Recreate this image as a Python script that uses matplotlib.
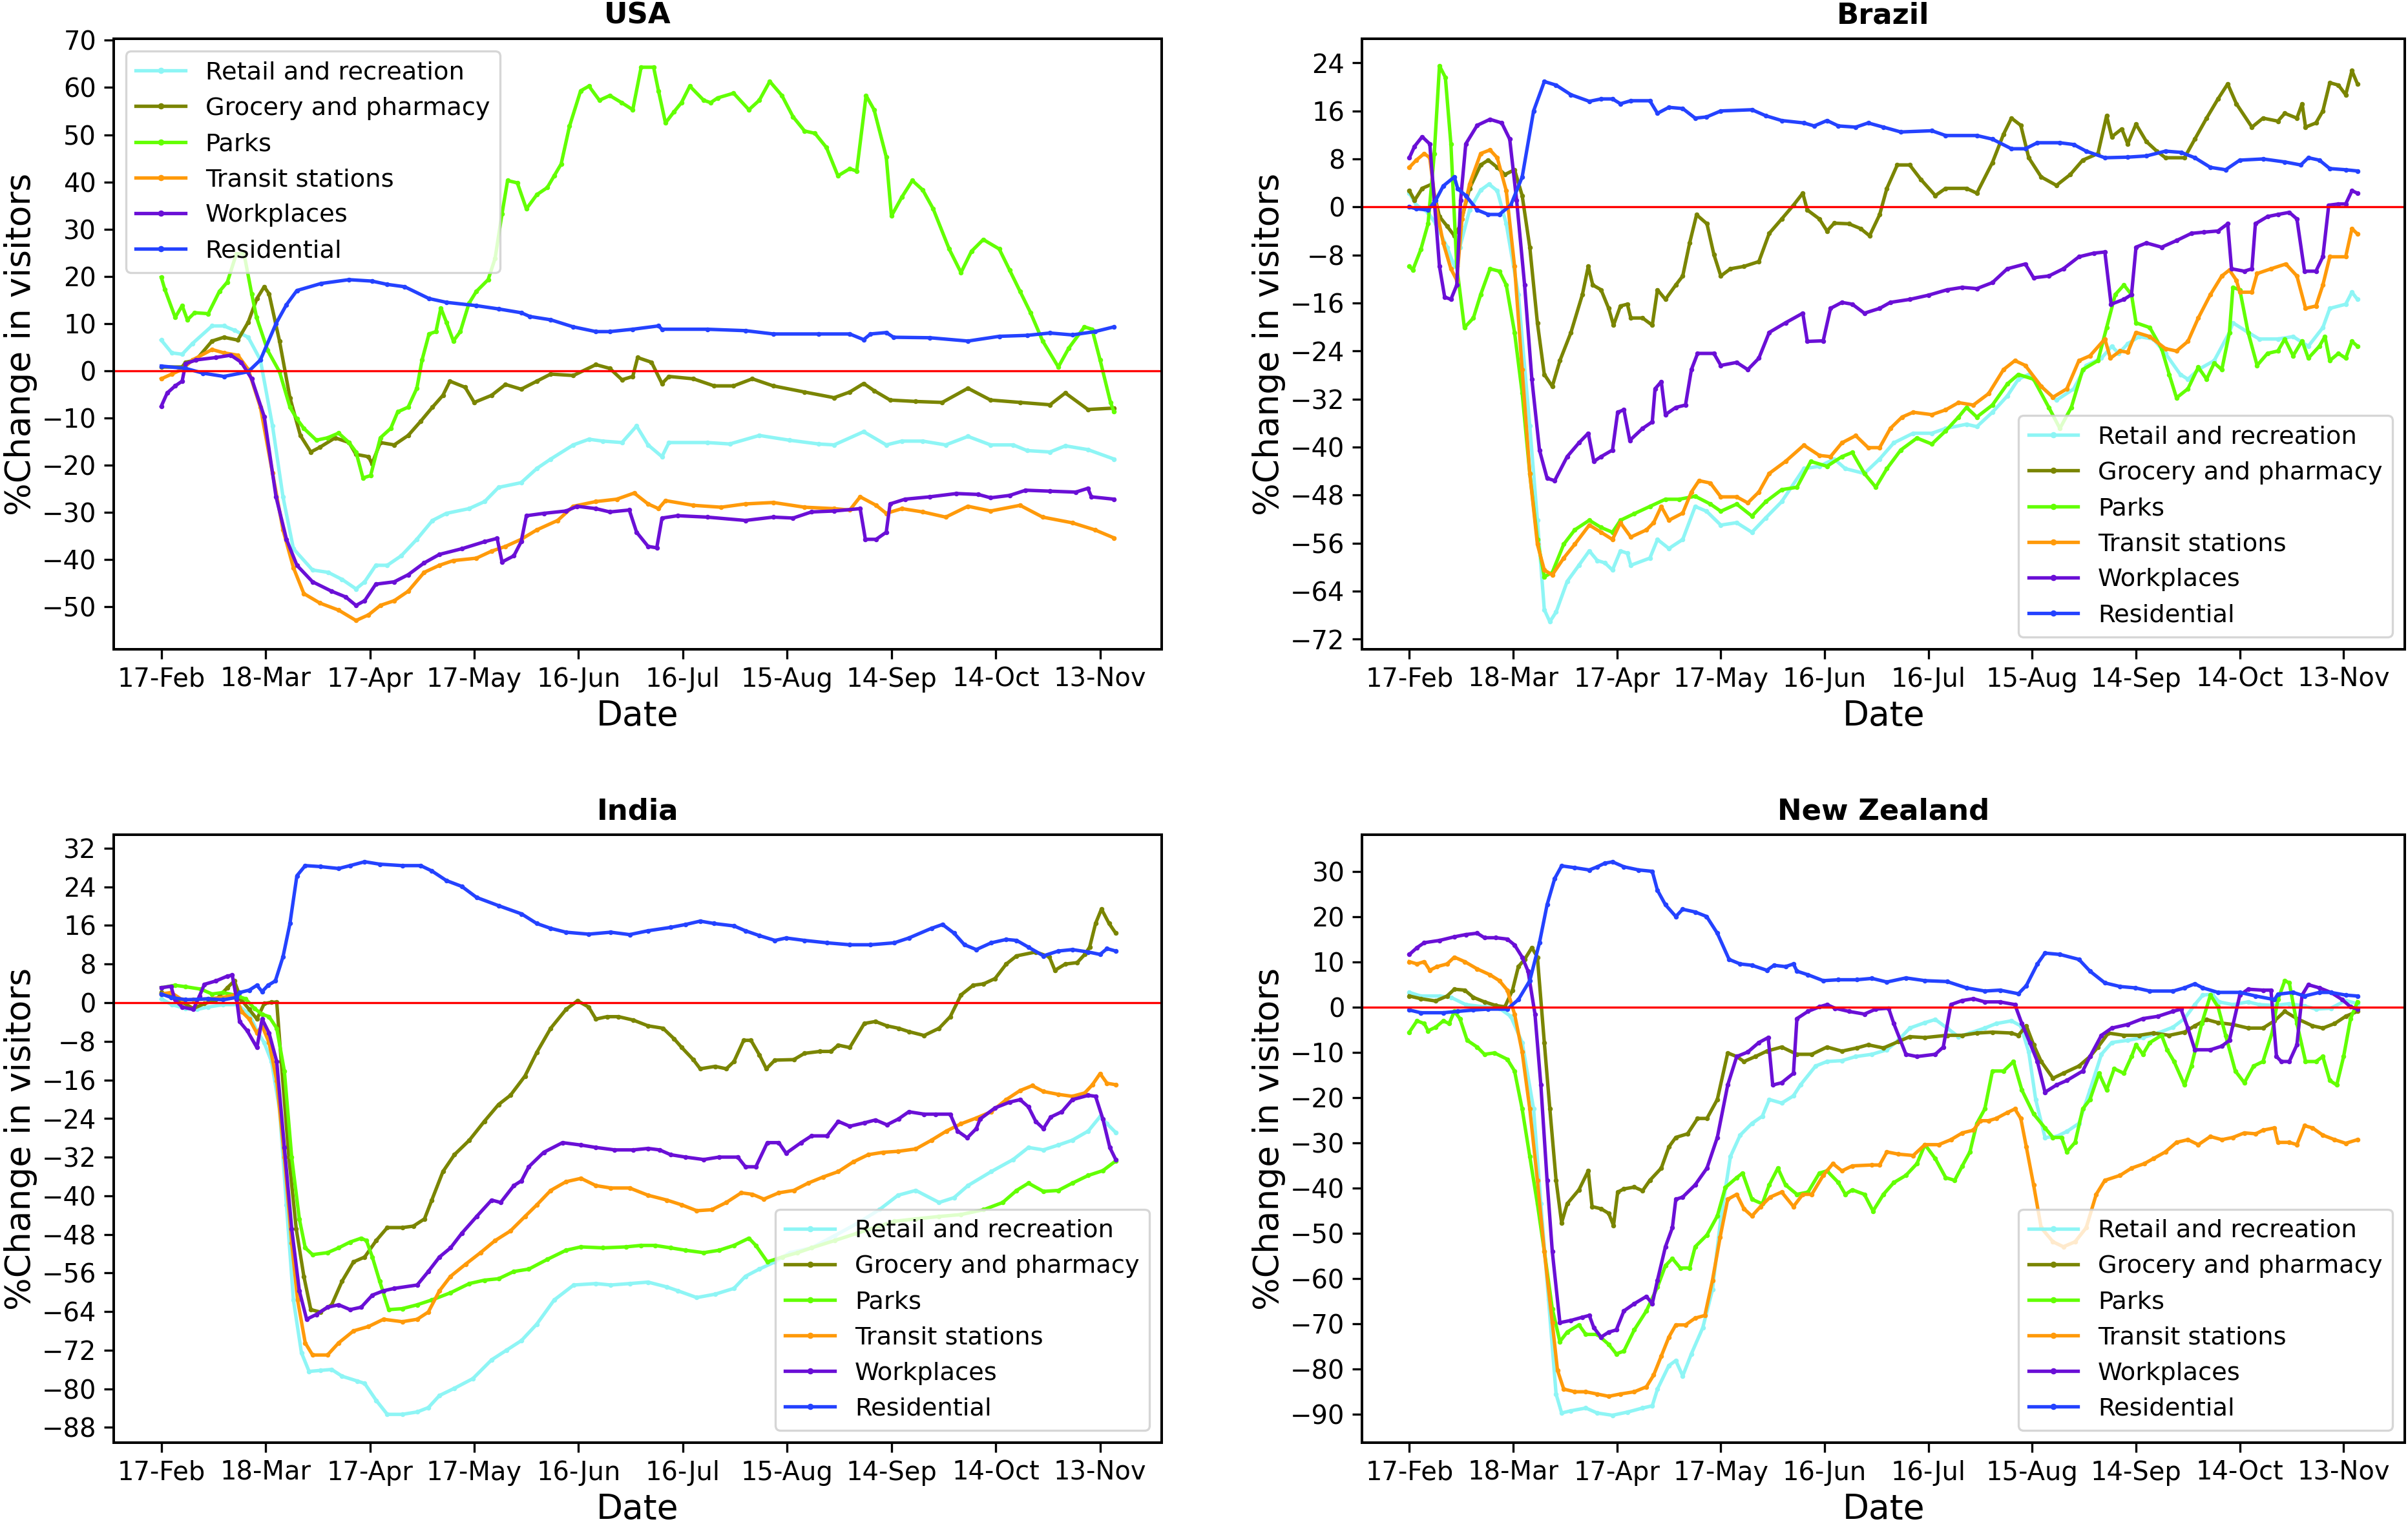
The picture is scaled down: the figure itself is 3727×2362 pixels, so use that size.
import matplotlib
matplotlib.use("Agg")
from matplotlib import pyplot as plt

# day index 0 = 17-Feb-2020, values in % change from baseline
tick_days = [0, 30, 60, 90, 120, 150, 180, 210, 240, 270]
tick_labels = ["17-Feb", "18-Mar", "17-Apr", "17-May", "16-Jun",
               "16-Jul", "15-Aug", "14-Sep", "14-Oct", "13-Nov"]

categories = ["Retail and recreation", "Grocery and pharmacy", "Parks",
              "Transit stations", "Workplaces", "Residential"]
colors = ["#8ef5f5", "#7a8500", "#62ff00", "#ff9a0a", "#6a0fd6", "#2442ff"]

# ---------------- USA ----------------
usa_retail = [(0, 6.5), (3, 3.8), (6, 3.5), (9, 5.8), (14.6, 9.5), (18, 9.5), (21, 8.6), (25, 7.1), (28.5, 2.3),
              (32, -11.7), (35, -26.7), (38, -37.7), (43.5, -42.2), (48, -42.7), (52, -44.2), (56, -46.2),
              (58.5, -44.7), (61.7, -41.2), (65, -41.2), (69, -39.2), (73.5, -35.7), (78, -31.7), (82, -30.2),
              (88.5, -29.2), (93, -27.7), (97, -24.7), (103.5, -23.7), (108, -20.7), (112, -18.7), (118.5, -15.7),
              (123, -14.5), (127, -14.9), (132.5, -15.2), (136.7, -11.7), (140, -15.7), (144, -18.2), (146, -15.2),
              (157, -15.2), (163.5, -15.5), (172, -13.7), (180.6, -14.7), (189, -15.5), (193.5, -15.7), (202, -12.9),
              (208.5, -15.7), (213, -14.9), (219, -14.9), (225.6, -15.7), (232, -13.9), (238.5, -15.7), (245, -15.7),
              (249, -16.9), (255.6, -17.2), (260, -15.9), (266.5, -16.7), (274, -18.7)]
usa_grocery = [(0, 0.8), (6, 0.8), (7, 1.8), (10, 2.3), (14.6, 6.3), (18, 7.1), (22, 6.5), (25, 10.3), (27.5, 15.3),
               (29.6, 17.8), (31, 16.3), (34, 6.3), (37, -5.7), (40, -13.7), (43, -17.2), (45.6, -16.2), (50, -14.2),
               (54, -15.2), (56, -17.7), (59.6, -18.2), (60.6, -19.7), (63, -15.2), (67, -15.7), (71, -13.7),
               (74.6, -10.7), (78, -7.7), (81, -5.2), (83, -2.2), (87.4, -3.5), (90, -6.7), (95, -5.2), (99, -2.9),
               (103.5, -3.9), (108, -2.2), (112, -0.7), (118.5, -1), (125, 1.3), (129, 0.5), (132.5, -1.9),
               (135.6, -1.2), (137, 2.8), (141, 1.8), (144, -2.7), (146, -1.2), (153, -1.7), (159, -3.2),
               (164.6, -3.2), (170, -1.7), (176, -3.2), (185, -4.5), (193.5, -5.7), (198, -4.5), (202, -2.7),
               (205, -4.2), (209.6, -6.2), (217, -6.5), (224.6, -6.7), (232, -3.7), (238.5, -6.2), (247, -6.7),
               (255.6, -7.2), (260, -4.7), (266.5, -8.2), (274, -7.9)]
usa_parks = [(0, 19.8), (1, 17.3), (4, 11.3), (6, 13.8), (7.5, 10.8), (9.6, 12.3), (13.5, 12.1), (16.7, 16.8),
             (19, 18.8), (21.6, 24.8), (23.8, 24.8), (26, 16.3), (27.4, 11.3), (30.6, 4.3), (34, -0.2), (37, -7.7),
             (39, -10.2), (41, -12.2), (44.6, -14.7), (47.8, -14.2), (51, -13.2), (54, -15.2), (56, -17.2),
             (58, -22.7), (60.2, -22.2), (63, -14.2), (66, -12.2), (68, -8.7), (71, -7.7), (73.5, -3.7), (75, 2.3),
             (77, 7.8), (79, 8.3), (80.4, 13.3), (82, 10.3), (84, 6.3), (86, 8.3), (88.5, 14.3), (90.6, 16.8),
             (94, 19.3), (96, 23.8), (98, 33.3), (99.6, 40.3), (102.4, 39.8), (105, 34.3), (108, 37.3), (111, 38.8),
             (113, 41.3), (115, 43.8), (117.4, 51.8), (120.6, 59.3), (123, 60.3), (126, 57.3), (129, 58.3),
             (132.4, 56.8), (135.6, 55.3), (138, 64.3), (141.6, 64.3), (143, 59.3), (145, 52.5), (147.4, 54.8),
             (149.6, 56.8), (152, 60.3), (156, 57.3), (158, 56.8), (160, 57.8), (164.6, 58.8), (169, 55.3),
             (172, 57.3), (175, 61.3), (178.5, 58.3), (181.7, 53.8), (185, 50.8), (188, 50.3), (191.3, 47.3),
             (194.6, 41.3), (198, 42.8), (200, 42.3), (202.7, 58.3), (205, 55.3), (208.5, 45.3), (210, 32.8),
             (213, 36.8), (216, 40.3), (219, 38.3), (222, 34.3), (226.6, 25.8), (230, 20.8), (233, 25.3),
             (236.4, 27.8), (241, 25.8), (244, 21.3), (247, 16.8), (250, 12.3), (253.5, 6.3), (258, 0.8), (261, 4.8),
             (265.5, 9.3), (267.7, 8.8), (270, 2.3), (273, -6.7), (274, -8.7)]
usa_transit = [(0, -1.7), (3, -0.7), (6, 0.3), (9, 2.3), (14.6, 4.5), (18, 3.8), (22, 3.3), (25, 0.3), (28.5, -7.7),
               (32, -21.7), (35, -33.7), (38, -41.7), (41, -47.2), (45.6, -49.2), (51, -50.7), (56, -52.9),
               (59.6, -51.7), (63, -49.7), (67, -48.7), (71, -46.7), (75.6, -42.7), (80, -41.2), (84, -40.2),
               (90.6, -39.7), (95, -38.2), (99, -37.2), (103.5, -35.7), (108, -33.7), (114, -31.7), (118.5, -28.7),
               (125, -27.7), (131, -27.2), (136, -25.9), (140, -28.2), (143, -29.2), (145, -27.5), (153, -28.5),
               (161, -28.9), (168, -28.2), (176, -27.9), (185, -28.9), (193.5, -29.2), (198, -29.5), (201, -26.7),
               (205.6, -28.5), (208.5, -30.2), (213, -29.2), (219, -29.9), (225.6, -31), (232, -28.7),
               (238.5, -29.7), (247, -28.5), (253.5, -31), (262, -32.2), (268.5, -33.7), (274, -35.4)]
usa_workplaces = [(0, -7.5), (1.7, -4.7), (4, -3.2), (6, -2.2), (7, 1.5), (10, 2.3), (15.6, 2.8), (20, 3.3),
                  (23, 1.8), (26, -1.7), (29.6, -9.7), (33, -26.7), (36, -35.7), (39, -41.2), (43.5, -44.7),
                  (49, -46.7), (53, -47.9), (56, -49.7), (58.5, -48.7), (61.7, -45.2), (67, -44.7), (71, -43.2),
                  (75.6, -40.7), (80, -38.9), (86.4, -37.7), (93, -36.2), (96.6, -35.5), (98, -40.5),
                  (101.4, -39.2), (103.5, -36.2), (105, -30.7), (110, -30.2), (116.4, -29.7), (119.6, -28.7),
                  (125, -29.2), (129, -29.9), (134.6, -29.5), (136.7, -34.2), (140, -37.2), (142.5, -37.5),
                  (144, -31.2), (148.5, -30.7), (157, -31), (168, -31.7), (176, -31), (181.7, -31.2), (187, -29.9),
                  (193.5, -29.7), (201, -29.2), (202.5, -35.7), (205.6, -35.7), (208.5, -34.2), (209.6, -28.2),
                  (213.9, -27.2), (221, -26.7), (228.7, -26), (235, -26.2), (238.5, -26.9), (244, -26.4),
                  (248.6, -25.3), (255.6, -25.5), (263, -25.7), (266.5, -24.9), (267.5, -26.7), (274, -27.2)]
usa_residential = [(0, 1), (7, 0.5), (12, -0.5), (18, -1.2), (25, -0.2), (28.5, 2.3), (33, 10), (36, 14), (39, 17),
                   (46, 18.5), (54, 19.3), (60.6, 19), (65, 18.3), (70, 17.8), (77, 15.3), (82, 14.5), (90.6, 13.8),
                   (97, 13.1), (103.5, 12.3), (106, 11.5), (112, 10.8), (118.5, 9.3), (125, 8.3), (129, 8.3),
                   (135.6, 8.8), (143, 9.5), (144, 8.8), (157, 8.8), (168, 8.5), (176, 7.8), (189, 7.8), (198, 7.8),
                   (202, 6.6), (204, 7.8), (208.5, 8.1), (210.6, 7.1), (221, 7), (232, 6.3), (241, 7.3), (249, 7.5),
                   (255.6, 8), (262, 7.6), (268.5, 8.3), (274, 9.3)]

# ---------------- Brazil ----------------
br_retail = [(0, 2.3), (2, 0.3), (5.4, -0.9), (7.6, -2.8), (10.9, -6.7), (13, -9.9), (14.6, -6.7), (17.4, -0.5),
             (20.6, 2.8), (23, 3.8), (25.4, 2.7), (28, -2.8), (31.5, -14.6), (34.8, -36.5), (37, -52.2), (39, -67.1),
             (40.6, -69.1), (42.4, -67.5), (45.6, -62.4), (49, -59.7), (52, -57.3), (54.3, -58.9), (56.5, -59.3),
             (58.7, -60.5), (61, -57.3), (63, -57.7), (64, -59.7), (69.5, -58.5), (71.7, -55.4), (75, -56.9),
             (79, -55.4), (82.6, -49.9), (85.9, -50.7), (90, -53), (94.6, -52.6), (99, -54.2), (103, -51.8),
             (107.6, -49.1), (114, -43.6), (118.5, -43.2), (122.8, -42), (126, -43.6), (131.5, -44.4),
             (135.9, -42), (140, -39.3), (145.6, -37.7), (151, -37.7), (155, -36.9), (161, -36.2), (164, -36.6),
             (168.5, -34.2), (172.8, -31.5), (176, -28.7), (179, -27.9), (182.6, -29.9), (187, -32.2), (192, -30.3),
             (195.6, -26.4), (200, -25.2), (203, -23.2), (205, -24.4), (207.6, -22.8), (210.9, -21.6), (215, -22),
             (218.5, -24.4), (222.8, -27.9), (225, -28.7), (228, -27.1), (232.6, -25.6), (237, -20.9), (238, -19.3),
             (242.4, -20.9), (245.6, -22), (251, -22), (255.4, -21.6), (259.8, -23.2), (264, -20.1), (266, -16.9),
             (270.6, -16.2), (272.4, -14.2), (274, -15.4)]
br_grocery = [(0, 2.7), (1.5, 1.1), (3.7, 3.1), (6.5, 3.8), (8.7, -1.6), (10.9, -3.2), (13, -4.8), (14.6, -3.2),
              (17.4, 3.1), (20.6, 7), (22.8, 7.8), (25.4, 6.6), (27.6, 5.4), (30.4, 6.2), (32.6, 1.9), (34.8, -6.7),
              (37, -19.3), (39, -27.9), (41.3, -29.9), (43.5, -25.6), (46.7, -20.9), (50, -14.6), (51.7, -9.9),
              (53, -13), (55.4, -13.8), (57.6, -16.9), (59, -19.7), (61, -16.5), (63, -16.2), (64, -18.5),
              (67.4, -18.5), (70.2, -19.7), (71.7, -13.8), (74, -15.4), (77, -13), (79, -11.5), (81, -6), (83, -1.3),
              (86, -2.8), (88, -7.9), (90, -11.5), (92.8, -10.3), (96.7, -9.9), (101, -9.1), (104, -4.4),
              (107.6, -2), (111, 0.3), (113.7, 2.3), (115, -0.5), (118.5, -2), (120.7, -4), (122.8, -2.7),
              (127, -2.8), (130.4, -3.6), (133, -4.8), (135.9, -1.3), (138, 3.1), (141, 7), (144.6, 7), (147.8, 4.6),
              (152, 1.9), (155, 3.1), (161, 3.1), (164, 2.3), (168.5, 7.4), (171.7, 12.1), (174, 14.8),
              (176.7, 13.6), (179, 8.2), (182.6, 5), (187, 3.6), (191, 5.4), (194.6, 7.8), (199, 8.9),
              (201.5, 15.2), (203, 11.7), (205.9, 13), (207.6, 10.5), (210, 13.8), (213, 10.9), (216, 9.3),
              (218.5, 8.2), (224, 8.2), (227, 11.3), (230.4, 14.8), (233.7, 18), (236.5, 20.5), (239, 17.2),
              (243.5, 13.3), (246.7, 14.8), (251, 14.3), (253, 15.6), (256.5, 14.8), (258, 17.2), (259, 13.3),
              (262, 14), (264, 16), (266, 20.7), (268.5, 20.3), (270.6, 18.7), (272.4, 22.7), (274, 20.5)]
br_parks = [(0, -9.9), (1, -10.5), (3.3, -7.1), (5.4, -2.8), (7.2, 8.9), (8.7, 23.5), (10.4, 21.6), (12, 10.5),
            (13.7, -9.9), (15.9, -20.1), (18.5, -18.5), (20.6, -14.6), (23.3, -10.3), (26, -10.7), (28, -13),
            (30.4, -20.9), (32.6, -31), (34.8, -44.4), (37, -55.4), (39, -61.6), (41.3, -60.9), (44.6, -56.2),
            (47.8, -53.8), (52, -52.2), (55.4, -53.4), (58.7, -54.2), (61, -52.2), (65, -51.1), (69.5, -49.9),
            (74, -48.7), (78, -48.7), (82.6, -48.2), (87, -49.5), (90, -50.7), (94.6, -49.5), (99, -51.5),
            (103, -49.1), (107.6, -47.1), (112, -46.7), (116, -42.4), (120.7, -43.2), (125, -41.6), (128, -40.9),
            (131.5, -44.4), (134.8, -46.7), (138, -43.6), (142, -40.5), (146.7, -38.5), (151, -39.5), (155, -37.3),
            (158.7, -35), (161, -33.4), (164, -35), (168.5, -33), (172.8, -29.5), (176, -27.9), (180.4, -28.7),
            (184.8, -33.4), (188, -36.9), (191.3, -33.4), (194.6, -27.1), (199, -25.6), (201.5, -20.1), (204, -14.6),
            (206.5, -13), (208.7, -14.6), (210, -19.3), (214, -20.1), (217.4, -23.6), (219.6, -27.9),
            (221.7, -31.8), (225, -30.3), (228, -26.7), (230.4, -28.7), (232.6, -26), (234.8, -27.1), (237, -20.9),
            (238, -13.4), (240, -13.8), (242.4, -20.9), (245, -26.4), (248, -24.4), (251, -24), (253, -22),
            (255.4, -24.8), (258, -22.3), (259.8, -25.2), (263, -23.2), (264.6, -21.6), (266, -25.6),
            (268.5, -24.4), (270.6, -25.2), (272.4, -22.4), (274, -23.2)]
br_transit = [(0, 6.6), (2, 7.8), (4.3, 8.9), (5.9, 8.2), (7.6, 0.3), (9.8, -6), (12, -10.3), (13.7, -12.2),
              (15.2, -2), (17.4, 3.8), (20.6, 8.9), (23.3, 9.5), (25.4, 8.2), (28, 2.7), (30.4, -9.9), (32.6, -27.1),
              (34.8, -44.4), (37, -56.2), (39, -60.5), (41.3, -61.3), (44.6, -58.5), (47.8, -56.2), (52, -53),
              (55.4, -54.2), (58.7, -55.4), (61, -52.6), (64, -55), (68.5, -53.8), (70.6, -52.6), (72.8, -49.9),
              (75, -52.2), (79, -51), (81.5, -47.5), (83.7, -45.6), (87, -46), (90, -48.3), (94.6, -48.3),
              (97.8, -49.3), (101, -47.5), (104, -44.4), (108.7, -42.4), (114, -39.7), (118.5, -41.4),
              (121.7, -41.6), (125, -39.3), (129, -38.1), (132.6, -40.1), (135.9, -40.1), (139, -36.9),
              (142.4, -35), (145.6, -34.2), (151, -34.6), (155, -33.8), (158.7, -32.6), (163, -33), (167.4, -31.1),
              (171.7, -27.1), (175, -25.6), (178, -26.4), (182.6, -29.9), (186, -31.7), (190, -30.3),
              (193.5, -25.6), (196.7, -24.8), (201, -22), (202.6, -25.2), (205.4, -24), (207.6, -24.2), (210, -20.9),
              (214, -21.6), (218.5, -23.6), (221.7, -24), (225, -22.4), (228, -18.5), (231.5, -14.6),
              (234.8, -11.5), (237, -10.5), (239, -12.2), (240, -14.2), (243.5, -14.2), (245, -11.1), (249, -10.3),
              (253.3, -9.5), (256.5, -11.5), (259, -16.9), (262, -16.5), (264, -13), (266, -8.3), (270.6, -8.3),
              (272.4, -3.6), (274, -4.5)]
br_workplaces = [(0, 8.2), (1.5, 10.1), (3.7, 11.7), (5.9, 10.5), (7.2, 1.1), (8.7, -9.9), (10.2, -15), (12, -15.4),
                 (13.7, -13), (14.8, 1.1), (16.3, 10.5), (19.6, 13.6), (23.3, 14.6), (26.7, 14), (29, 11.3),
                 (31, 1.1), (33.3, -13), (35.4, -28.7), (37.6, -40.5), (39.8, -45.2), (42, -45.6), (45.6, -41.6),
                 (49, -39.3), (51.7, -37.7), (53.3, -42.4), (55.4, -41.6), (58.7, -40.5), (60.2, -34.2), (62, -33.8),
                 (63.7, -38.9), (67.4, -36.9), (70.2, -35.8), (71, -30.3), (72.8, -29.1), (74, -34.6), (77, -33.4),
                 (79.8, -33), (81.5, -27.1), (83.3, -24.4), (88, -24.4), (90, -26.4), (94.6, -25.9), (97.8, -27.1),
                 (101, -25.2), (104, -20.9), (108.7, -19.3), (113.7, -17.7), (115, -22.4), (119.6, -22.3),
                 (121.7, -16.9), (125, -15.9), (128, -16.2), (131.5, -17.7), (135.9, -16.9), (139, -15.9),
                 (144.6, -15.4), (150, -14.7), (155.4, -13.8), (159.8, -13.4), (164, -13.6), (168.5, -12.6),
                 (172.8, -10.3), (178, -9.5), (180.4, -11.8), (184.8, -11.5), (189, -10.3), (193.5, -8.3),
                 (197.8, -7.7), (201, -7.5), (202.8, -16.2), (206.5, -15.4), (208.7, -14.6), (210, -6.7), (213, -6),
                 (217.4, -6.7), (221.7, -5.6), (226, -4.4), (229.6, -4.2), (233.7, -4), (236.5, -2.8),
                 (237.6, -10.3), (241.3, -10.7), (243.5, -10.3), (244.5, -2.8), (248, -1.6), (251, -1.25),
                 (254.3, -0.9), (256.5, -2), (258.7, -10.7), (262, -10.7), (264, -8.3), (265.7, 0.3), (268.5, 0.5),
                 (270.6, 0.5), (272.4, 2.7), (274, 2.3)]
br_residential = [(0, 0), (2, -0.3), (5.4, -0.5), (7.6, 1.1), (9.8, 3.5), (13, 5), (14, 3), (16.3, 1.9),
                  (19.6, -0.5), (22.8, -1.25), (26, -1.25), (29.3, 0.3), (32.6, 5), (35.9, 16), (39, 20.9),
                  (42.4, 20.3), (46.7, 18.7), (52, 17.6), (55.4, 18), (58.7, 18), (61, 17.2), (64, 17.7),
                  (69.5, 17.7), (71.7, 15.6), (75, 16.6), (79, 16.4), (82.6, 14.8), (85.9, 15), (90, 16), (99, 16.2),
                  (103, 15.2), (107.6, 14.4), (114, 14), (117, 13.5), (120.7, 14.4), (124, 13.5), (129, 13.3),
                  (132.6, 14), (137, 13.3), (142, 12.5), (151, 12.7), (155, 11.9), (164, 11.9), (168.5, 11.3),
                  (174, 9.7), (178, 9.7), (181.5, 10.7), (188, 10.7), (192, 10.4), (195.6, 9.3), (201, 8.2),
                  (207.6, 8.3), (213, 8.5), (218.5, 9.3), (223, 9.1), (227, 8.2), (231.5, 6.6), (235.9, 6.2),
                  (240, 7.8), (246.7, 8), (253, 7.5), (257.6, 7), (259.8, 8.2), (263, 7.8), (266, 6.4),
                  (270.6, 6.2), (274, 6)]

# ---------------- India ----------------
in_retail = [(0, 0.8), (3, -0.4), (7, -1.2), (10.3, -1.4), (13.5, -0.9), (17.8, -0.4), (22, -0.4), (25.3, -2.4),
             (27.5, -5.8), (29.6, -8.3), (31.7, -12.2), (34, -22.1), (36, -41.9), (38, -61.6), (40.3, -72.5),
             (42.5, -76.4), (45.7, -76.2), (49, -76), (52, -77.4), (56.4, -78.4), (58.5, -78.9), (61.8, -82.4),
             (65, -85.3), (69.3, -85.3), (73.6, -84.8), (76.8, -83.9), (80, -81.4), (84.3, -79.9), (89.6, -77.9),
             (95, -74), (99.3, -72), (103.6, -70), (108, -66.6), (113, -61.6), (118.6, -58.5), (125, -58.2),
             (129.3, -58.5), (134.7, -58.2), (140, -57.9), (145.4, -58.9), (148.6, -59.7), (154, -61.1),
             (159.3, -60.4), (164.7, -59.2), (168, -56.7), (172, -55.2), (176.5, -53.7), (180.8, -51.8),
             (187, -50.8), (193.6, -48.3), (200, -45.8), (206.5, -42.9), (211.9, -39.9), (217, -38.9),
             (223.7, -41.4), (228, -40.4), (232, -37.9), (238.7, -35), (245, -32.5), (249.4, -30), (253.7, -30.5),
             (258, -29.5), (262, -28.5), (266.6, -26.6), (270, -23.6), (272, -25.1), (274.5, -26.9)]
in_grocery = [(0, 2.1), (2.8, 1.4), (6, 0.1), (9.2, -1.2), (12.4, -0.2), (15.7, 0.6), (19, 3.1), (21, 4.5),
              (23, 0.6), (25.3, -1.4), (27.5, -3.4), (29.6, -0.2), (31.7, 0.1), (33.2, 0.1), (34.5, -12.2),
              (36.7, -32), (38.8, -46.8), (41, -56.7), (43, -63.6), (45.7, -64.1), (49, -62.6), (52, -57.7),
              (55.3, -53.7), (58.5, -52.7), (61.8, -49.3), (65, -46.6), (69.3, -46.6), (72.5, -46.3), (75.7, -44.8),
              (77.8, -40.9), (81, -35), (84.3, -31.5), (88.6, -28.5), (92.9, -24.6), (97, -21.1), (100.4, -19.2),
              (104.6, -15.2), (108, -10.3), (112, -5.3), (116.4, -1.4), (119.7, 0.4), (122.9, -0.9), (125, -3.4),
              (128.2, -2.9), (131.5, -2.9), (135.7, -3.6), (140, -4.8), (144.3, -5.3), (147.5, -7.5), (149.7, -9.3),
              (153, -11.8), (155, -13.7), (159.3, -13.2), (162.5, -13.7), (164.7, -12.2), (167.5, -7.8),
              (169.6, -7.8), (172, -10.8), (174, -13.7), (176.5, -11.9), (181.9, -11.8), (185, -10.5),
              (189.4, -10.1), (192.6, -10.1), (194.7, -8.8), (198, -9.3), (202.2, -4.3), (205.4, -3.9),
              (208.7, -4.8), (212, -5.3), (215, -6), (219.4, -6.8), (223.7, -5.3), (226.9, -2.9), (230, 1.6),
              (233.5, 3.6), (236.5, 3.9), (239.8, 5), (243, 8), (246, 9.7), (251.5, 10.5), (255.4, 9.5), (257, 6.7),
              (260, 8), (263.4, 8.3), (265.6, 10), (267, 11.5), (268.7, 16.4), (270.4, 19.4), (272.6, 16.4),
              (274.5, 14.4)]
in_parks = [(0, 3.1), (3.9, 3.6), (7, 3.3), (11.4, 2.8), (14.6, 1.8), (17.8, 2.1), (21, 1.6), (24.2, 0.8),
            (26.8, -1.2), (29, -2.4), (31, -2.9), (33.2, -5.3), (35.4, -14.2), (37.5, -32), (39.7, -44.8),
            (41.4, -50.8), (43.5, -52.2), (47.8, -51.8), (51, -50.8), (54.3, -49.6), (57.5, -48.8), (59, -49.3),
            (60.7, -52.7), (62.8, -57.7), (65.4, -63.6), (69.3, -63.4), (73.6, -62.6), (77.8, -61.6), (83.2, -60.1),
            (88.6, -58.2), (92.9, -57.5), (97, -57.2), (101.4, -55.7), (105.7, -55.2), (111, -53.2), (116.4, -51.3),
            (120.7, -50.6), (127, -50.8), (133.6, -50.6), (137.9, -50.3), (142, -50.3), (146.5, -50.8),
            (150.8, -51.3), (156, -51.8), (160.4, -51.3), (164.7, -50.3), (169, -48.8), (171, -50.3),
            (174.3, -53.7), (178.6, -52.7), (183, -51.8), (187, -50.8), (193.6, -49.3), (200, -47.8),
            (206.5, -46.3), (210.8, -45.3), (217, -44.8), (223.7, -44.3), (230, -43.9), (236.5, -42.9),
            (242, -41.4), (246, -38.9), (249.4, -37.4), (253.7, -39.1), (258, -38.9), (262, -37.4), (266.6, -35.8),
            (270.8, -34.8), (274.5, -32.8)]
in_transit = [(0, 1.8), (2.8, 2.1), (6, 0.6), (9.2, 0.6), (13.5, 0.8), (17.8, 1.1), (21, 1.6), (23.2, -1.9),
              (25.3, -3.4), (27.5, -6.3), (29, -4.8), (31, -8.3), (33.2, -16.2), (35.4, -32), (37.5, -49.8),
              (39.2, -61.6), (41.4, -70.5), (43.5, -73), (47.8, -73), (51, -70.5), (55.3, -68), (59.6, -67.1),
              (63.9, -65.6), (69.3, -66.1), (73.6, -65.6), (76.8, -64.1), (80, -59.7), (83.2, -56.7), (87.5, -54.2),
              (91.8, -51.8), (96, -49.3), (100.4, -47.3), (104.6, -44.3), (108, -41.9), (112, -38.9),
              (116.4, -37.1), (120.7, -36.4), (125, -37.9), (129.3, -38.4), (134.7, -38.4), (140, -39.9),
              (145.4, -40.9), (149.7, -41.9), (154, -43.1), (158.3, -42.9), (162.5, -41.4), (166.8, -39.4),
              (170, -39.7), (173.3, -40.7), (177.6, -39.4), (181.9, -38.9), (186, -37.4), (190.4, -36.1),
              (194.7, -35), (199, -33), (203.3, -31.5), (207.6, -31), (211.9, -30.8), (217, -30.3), (221.5, -28.5),
              (225.8, -26.6), (230, -25.1), (234.4, -23.9), (238.7, -22.6), (243, -20.1), (247, -18.2),
              (250.5, -17.2), (253.7, -18.4), (258, -19), (262, -19.4), (265.6, -18.7), (267.8, -17), (270, -14.7),
              (272, -16.7), (274.5, -17)]
in_workplaces = [(0, 3.1), (2.8, 3.4), (3.9, 0.6), (6, -0.9), (9.2, -1.4), (11, 1.4), (12.4, 3.8), (15.7, 4.5),
                 (19, 5.5), (20.4, 5.7), (21.7, 0.6), (22.5, -3.9), (24.7, -5.8), (27.5, -9.3), (29, -3.4),
                 (31, -6.3), (33.2, -12.2), (35.4, -30), (37.5, -46.8), (39.7, -59.7), (41.8, -65.6), (44.6, -64.6),
                 (47.8, -63.1), (51, -62.6), (54.3, -63.6), (57.5, -63.1), (60.7, -60.6), (63.9, -59.7), (67, -59.2),
                 (73.6, -58.5), (76.8, -55.7), (80, -52.7), (83.2, -50.8), (86.4, -47.8), (90.7, -44.3), (95, -40.9),
                 (97.6, -41.4), (101.4, -37.9), (103.6, -36.9), (105.7, -34), (110, -31), (115.4, -29),
                 (120.7, -29.5), (125, -30), (130.4, -30.5), (135.7, -30.5), (140, -30.2), (143.3, -30.5),
                 (146.5, -31.5), (150.8, -32), (156, -32.5), (160.4, -32), (165.8, -32), (168, -34), (171, -34),
                 (174.3, -29), (177.6, -29), (179.7, -31.2), (184, -29), (187, -27.6), (191.5, -27.6),
                 (194.7, -24.6), (198, -25.6), (202.2, -24.9), (205.4, -24.3), (208.7, -25.3), (212, -24.1),
                 (215, -22.6), (219.4, -23.1), (222.6, -23.1), (226.9, -23.1), (229, -26.6), (231.8, -28),
                 (234.4, -26.1), (235.5, -24.1), (239.8, -21.8), (244, -20.6), (247, -20.1), (249.4, -21.6),
                 (251.5, -24.6), (253.7, -26.1), (255.8, -23.7), (259, -22.6), (262, -20.1), (266.6, -19.2),
                 (268.7, -19.4), (270.8, -24.1), (272.8, -30), (274.5, -32.5)]
in_residential = [(0, 1.8), (2.8, 1.1), (7, 0.6), (13.5, 0.8), (17.8, 0.6), (21.7, 1.1), (22.5, 2.1), (25.3, 2.6),
                  (27.5, 3.6), (29, 2.3), (30.7, 3.6), (32.8, 4.5), (35, 9.5), (37, 16.4), (39, 26.3), (41.4, 28.4),
                  (45.7, 28.2), (51, 27.8), (54.3, 28.4), (58.5, 29.2), (62.8, 28.7), (69.3, 28.4), (74.6, 28.4),
                  (77.8, 27.3), (82, 25.3), (86.4, 24.1), (90.7, 21.8), (97, 20.1), (103.6, 18.4), (108, 16.4),
                  (112, 15.4), (116.4, 14.6), (122.9, 14.2), (129.3, 14.6), (134.7, 14.1), (140, 14.9),
                  (146.5, 15.6), (150.8, 16.2), (155, 16.9), (159, 16.4), (164.7, 15.9), (168, 14.9), (172, 13.9),
                  (176.5, 12.9), (179.7, 13.4), (185, 12.9), (191.5, 12.4), (198, 12), (204, 12), (210.8, 12.4),
                  (215, 13.4), (221.5, 15.4), (224.7, 16.2), (228, 14.4), (231, 12), (234.4, 11), (238.7, 12.4),
                  (243, 13.1), (246, 12.9), (249.4, 11.5), (253.7, 9.7), (258, 10.7), (262, 11), (266.6, 10.5),
                  (270, 10), (272, 11.2), (274.5, 10.7)]

# ---------------- New Zealand ----------------
nz_retail = [(0, 3.3), (3.3, 2.5), (8.7, 2.5), (12, 2.2), (16.3, 0.6), (21.7, 0.1), (26, -0.2), (29.3, -2),
             (32.6, -7.8), (35.9, -22.5), (38, -43.5), (40.2, -64.6), (42.4, -85.6), (44, -89.8), (46.7, -89.3),
             (51, -88.7), (54.3, -89.8), (58.7, -90.3), (63, -89.6), (67.4, -88.7), (70.2, -88.2), (71.7, -84.5),
             (75, -79.3), (77, -78.2), (79, -81.6), (81.5, -76.7), (84.8, -70.9), (87.6, -62.5), (90, -46.7),
             (92.8, -33), (95.6, -28.3), (99, -25.7), (102, -24.1), (104, -20.4), (107.6, -21.2), (111, -19.6),
             (113, -17.2), (117.4, -13), (120.7, -12), (125, -11.8), (129, -10.9), (133.7, -10.4), (138, -9.4),
             (141.3, -7.3), (144.6, -4.6), (149, -3.4), (152, -2.7), (155.4, -4.6), (158.7, -6.5), (162, -5.7),
             (166.3, -4.6), (169.6, -3.6), (174, -3), (176.7, -4.1), (179, -9.9), (181, -20.4), (183.7, -28.8),
             (187, -28.6), (190, -27.5), (193.5, -25.7), (196.7, -18.3), (200, -10.4), (203, -7.8), (207.6, -7.3),
             (212, -6.7), (216.3, -5.7), (220.7, -4.4), (224, -2.5), (227, 0.6), (229.3, 2.7), (232, 2.9),
             (234, 1.2), (238, 0.6), (242.4, 1.2), (245.6, 0.6), (250, 0.4), (254.3, 0.8), (258.7, 0.3),
             (262, -0.4), (266.3, -0.2), (270.6, 1.5), (274, 0.8)]
nz_grocery = [(0, 2.5), (3.3, 1.9), (7.6, 1.4), (10.9, 2.5), (13, 4), (16, 3.8), (18.5, 2.2), (21.7, 1.2), (25, 0.4),
              (27.6, 0.1), (29.8, 3.8), (31.5, 9), (33.3, 10.6), (35.4, 13.2), (37, 11.1), (39, -7.8), (40.6, -22.5),
              (42.4, -38.3), (44, -47.7), (45.6, -43.5), (49, -40.4), (51.7, -36.2), (52.8, -44.1), (55.4, -44.6),
              (57.6, -45.6), (59, -48.3), (60.2, -40.9), (62, -40.2), (65, -39.8), (67.4, -40.6), (69.5, -38.3),
              (72.8, -35.6), (75, -30.9), (77, -28.8), (80.4, -28), (83.3, -24.6), (86, -24.6), (89, -20.4),
              (92, -10.1), (94.6, -10.9), (96.7, -12), (100, -10.9), (103.3, -9.7), (107.6, -8.8), (112, -10.4),
              (116.3, -10.4), (120.7, -8.8), (125, -9.7), (129.3, -9), (132.6, -8.3), (137, -9), (141.3, -7.6),
              (144.6, -6.5), (149, -6.7), (155.4, -6.2), (159.8, -6.2), (164, -5.7), (168.5, -5.5), (174, -5.7),
              (176, -6.2), (178.3, -4.1), (180.4, -8.3), (182.6, -12), (186, -15.7), (189, -14.6), (193.5, -13),
              (196.7, -10.9), (199, -8.8), (202, -5.7), (206.5, -6.2), (210.9, -6.2), (215, -5.7), (219.6, -6.2),
              (224, -5.5), (227, -4.1), (230.4, -2.7), (233.7, -3.4), (238, -3.8), (242.4, -4.6), (246.7, -4.6),
              (250, -3), (253, -0.9), (256.5, -2.5), (261, -4.1), (264, -4.6), (267.4, -3.6), (270.6, -2),
              (274, -0.9)]
nz_parks = [(0, -5.5), (2.2, -3), (4.3, -3.6), (5.4, -5.2), (7.6, -4.4), (9.8, -3), (11.5, -3.6), (13, -0.9),
            (14.6, -2.5), (16.7, -7.3), (19.6, -8.8), (21.7, -10.4), (24.6, -10.1), (28.3, -11.5), (30.4, -14.1),
            (32.6, -22.5), (34.8, -33), (37, -43.5), (39, -54), (41.3, -66.7), (43.5, -74), (45.6, -71.9),
            (49, -70.3), (51, -72.4), (54.3, -72.4), (57.6, -74.6), (59.8, -76.7), (62, -76.1), (65, -71.4),
            (68.5, -67.2), (71.7, -61.9), (74, -57.2), (76, -55.6), (78.3, -57.7), (81, -57.7), (82.6, -53),
            (86, -50.4), (89, -46.2), (91.3, -39.9), (94.6, -37.7), (96.3, -36.7), (99, -42.5), (102, -43.5),
            (104, -39.3), (106.5, -35.6), (108.7, -39.3), (112, -41.4), (115.2, -40.9), (118.5, -36.7),
            (120.7, -36.2), (124, -38.8), (126, -41.4), (128, -40.4), (131.5, -41.4), (134, -45.1), (137, -41.4),
            (140, -38.8), (143.5, -37.2), (146.7, -34.6), (149, -30.4), (152, -33.5), (155, -37.7), (157.6, -38.3),
            (159.8, -35.1), (162, -32), (164, -25.7), (166.3, -22.5), (168.5, -14.1), (171.7, -14.1), (174.6, -12),
            (177, -18.3), (180.4, -23.6), (183.7, -26.7), (186, -28.8), (188.5, -28.8), (190, -32), (192.4, -29.9),
            (194.6, -22.5), (196.7, -20.4), (199.3, -14.6), (201.5, -18.3), (203.7, -13.6), (206.5, -14.6),
            (208.7, -10.9), (210, -8.3), (212, -10.4), (214, -7.8), (217.4, -6.2), (219, -9.4), (221, -12),
            (224, -17.2), (226, -13), (229, -3.6), (231.5, 2.7), (233.7, 0.1), (235.9, -6.2), (238.7, -14.1),
            (241.3, -16.7), (244, -13), (246.7, -12), (249.3, -5.7), (251, 1.7), (253, 5.9), (254.3, 5.4),
            (256.5, -3.6), (259, -12), (262, -12), (264, -10.9), (266, -16.2), (268, -17.2), (270, -10.9),
            (272, -2.5), (274, 1.2)]
nz_transit = [(0, 10.1), (2.2, 9.6), (4.3, 10.1), (5.9, 8.2), (8, 9), (10.9, 9.6), (13, 11.1), (16, 10.1),
              (19.6, 8.5), (23.3, 7.2), (26, 5.9), (28.3, 3.8), (30.4, -1.5), (32.6, -9.9), (34.8, -22.5),
              (37, -38.3), (39, -54), (41.3, -69.8), (42.8, -80.3), (44.6, -84.5), (47.8, -85.1), (51, -85.1),
              (54.3, -85.6), (57.6, -86.1), (60.9, -85.6), (65, -85.1), (68.5, -84), (70.6, -81.4), (72.8, -77.2),
              (75, -73), (77, -70.3), (79.8, -70.3), (82.6, -68.8), (85.4, -68.2), (87.6, -60.4), (89.8, -50.9),
              (92, -42.5), (94.6, -41.4), (96.7, -44.6), (99, -46.2), (101.5, -44.1), (104.3, -42), (107.6, -40.9),
              (111, -44.1), (113.7, -41.4), (116.3, -41.4), (119.6, -37.2), (122.4, -34.6), (125, -36.2),
              (128, -35.1), (133.7, -34.9), (135.9, -34.9), (138, -32), (141.3, -32.5), (145.6, -32.8),
              (149, -30.4), (153, -30.4), (156.5, -29.3), (159.8, -27.8), (163, -27.2), (165, -25.1),
              (167.4, -25.1), (169.6, -24.6), (172.8, -23.3), (175, -22.5), (176.7, -24.6), (178.3, -30.9),
              (180.4, -39.3), (182.6, -48.8), (186, -51.9), (189, -53), (192.4, -51.9), (195.6, -48.8),
              (198.5, -41.4), (201, -38.3), (205.4, -37.2), (208.7, -35.6), (212.4, -34.6), (215, -33.5),
              (218.5, -32), (221.7, -29.9), (225, -29.3), (228, -30.4), (231.5, -28.6), (234.8, -29.3),
              (238, -28.8), (241.3, -27.8), (244.6, -28), (246.7, -27.2), (250, -26.7), (251, -29.9),
              (254.3, -29.9), (256.5, -30.4), (258.7, -26.2), (261, -26.7), (264, -28.3), (267.4, -29.3),
              (270.6, -30.1), (274, -29.3)]
nz_workplaces = [(0, 11.7), (2.2, 13.2), (4.3, 14.3), (8.7, 14.8), (13, 15.6), (16.3, 16.1), (19.6, 16.4),
                 (21.7, 15.4), (25, 15.4), (28.3, 15.1), (30.4, 13.8), (32.6, 11.1), (34.3, 8), (36.3, -1.5),
                 (38, -17.2), (39.8, -38.3), (41.3, -54), (43.5, -69.8), (46.7, -69.3), (50, -68.6), (52, -68.2),
                 (53.3, -70.9), (55.4, -73), (57.6, -71.9), (59.8, -71.4), (62, -67.2), (65, -65.6), (68.5, -64),
                 (70.2, -65.6), (71.7, -60.4), (74, -53), (76, -48.8), (77, -42.5), (79, -42), (82.6, -39.3),
                 (86, -35.6), (89, -28.8), (92, -17.2), (94.6, -10.9), (97.8, -9.9), (101, -7.8), (103.7, -6.7),
                 (105, -17.2), (107.6, -16.7), (111, -14.6), (112, -2.5), (115.2, -0.9), (118.5, 0.1), (120.7, 0.6),
                 (123, -0.2), (127, -0.9), (131.5, -1.5), (134.8, -0.4), (138.5, -0.2), (140, -3.6), (143.5, -10.4),
                 (146.7, -10.9), (152, -10.4), (154.3, -8.8), (156.5, 0.6), (159.8, 1.5), (163, 1.9), (166.3, 1.2),
                 (170.7, 1.2), (175, 0.6), (177, -3.6), (179.3, -7.8), (181.5, -12), (183.7, -18.8), (187, -17.2),
                 (190, -16.2), (194.6, -14.1), (196.7, -10.9), (200, -6.2), (203, -4.6), (207.6, -3.8), (212, -2.5),
                 (216.3, -2), (220.7, -0.9), (223, -0.4), (225, -4.6), (227, -9.4), (231.5, -9.4), (234.8, -8.6),
                 (237, -7.3), (240, 2.7), (242.4, 4), (246.7, 3.8), (249, 3.8), (250.6, -10.9), (252, -12),
                 (254.3, -12), (256.5, -8.3), (258, 2.7), (259.8, 5), (263, 4.3), (266.3, 3.3), (269.6, 1.7),
                 (272, 0.1), (274, -0.4)]
nz_residential = [(0, -0.6), (3.3, -1.2), (9.8, -1.2), (14, -0.9), (18.5, -0.6), (22.8, -0.4), (28.3, -0.4),
                  (31.5, 1.7), (34.8, 5.9), (37.6, 14.3), (39.8, 22.7), (42, 28.5), (44, 31.3), (47.8, 30.9),
                  (52, 30.4), (54.3, 31.1), (56.5, 31.9), (58.7, 32.2), (62, 31.1), (66.3, 30.4), (70.2, 30.1),
                  (71.7, 25.9), (74, 22.7), (77, 20.1), (79, 21.7), (82.6, 21.1), (85.9, 20.1), (89, 16.4),
                  (92.4, 10.6), (95.6, 9.6), (99, 9.3), (103.3, 8.2), (105.4, 9.3), (108.7, 9), (111, 9.6), (112, 8),
                  (115.2, 7.2), (119.6, 5.9), (124, 6.1), (129.3, 6.1), (133.7, 6.4), (138, 5.6), (143.5, 6.5),
                  (149, 5.9), (155.4, 5.7), (161, 4.3), (166.3, 3.6), (170.7, 3.8), (176, 3), (178.3, 4.8),
                  (181.5, 9.6), (183.7, 12), (188, 11.7), (193.5, 10.6), (196.7, 8), (201, 5.4), (205.4, 4.6),
                  (209.8, 4.3), (214, 3.6), (220.7, 3.6), (224, 4.3), (227, 5.2), (229.3, 4.3), (233.7, 3.3),
                  (240, 3.3), (244.6, 2.5), (250, 1.7), (251, 2.9), (255.4, 3.3), (258.7, 2.5), (263, 3.3),
                  (266.3, 3.3), (270.6, 2.7), (274, 2.5)]

panels = [
    ("USA", [usa_retail, usa_grocery, usa_parks, usa_transit, usa_workplaces, usa_residential],
     list(range(-50, 71, 10)), (-59, 70.3), "upper left"),
    ("Brazil", [br_retail, br_grocery, br_parks, br_transit, br_workplaces, br_residential],
     list(range(-72, 25, 8)), (-73.7, 28.0), "lower right"),
    ("India", [in_retail, in_grocery, in_parks, in_transit, in_workplaces, in_residential],
     list(range(-88, 33, 8)), (-91.2, 34.8), "lower right"),
    ("New Zealand", [nz_retail, nz_grocery, nz_parks, nz_transit, nz_workplaces, nz_residential],
     list(range(-90, 31, 10)), (-96.4, 38.2), "lower right"),
]

# axes boxes in figure fractions (left, bottom, width, height)
boxes = [
    [0.0472, 0.5745, 0.4352, 0.4000],
    [0.5656, 0.5745, 0.4331, 0.4000],
    [0.0472, 0.0545, 0.4352, 0.3985],
    [0.5656, 0.0545, 0.4331, 0.3985],
]

fig = plt.figure(figsize=(3727 / 240, 2362 / 240), dpi=240)

for (title, series, yticks, ylim, loc), box in zip(panels, boxes):
    ax = fig.add_axes(box)
    for name, color, pts in zip(categories, colors, series):
        days = [p[0] for p in pts]
        vals = [p[1] for p in pts]
        ax.plot(days, vals, color=color, lw=1.6, marker=".", markersize=2.5, label=name)
    ax.axhline(0, color="red", lw=1.0)
    ax.set_xlim(-13.7, 287.7)
    ax.set_ylim(*ylim)
    ax.set_yticks(yticks)
    ax.set_xticks(tick_days)
    ax.set_xticklabels(tick_labels)
    ax.tick_params(labelsize=12, length=4.5, width=1)
    for sp in ax.spines.values():
        sp.set_linewidth(1.2)
    ax.set_title(title, fontsize=13.5, fontweight="bold", pad=7)
    ax.set_xlabel("Date", fontsize=16, labelpad=3)
    ax.set_ylabel("%Change in visitors", fontsize=16, labelpad=2)
    ax.legend(loc=loc, fontsize=11.5, handlelength=2.0, markerscale=1.5)

fig.savefig("out.png", dpi=240)
